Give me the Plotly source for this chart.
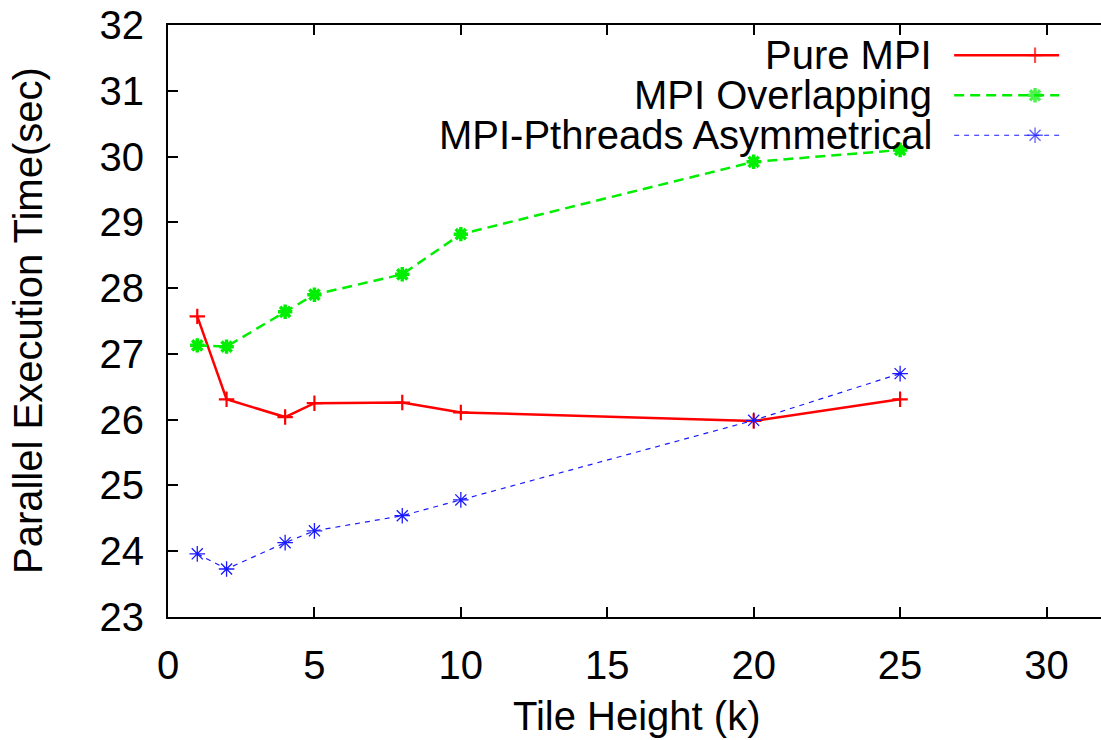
import plotly.graph_objects as go

# Tile height (k) on the x axis
tile_height = [1, 2, 4, 5, 8, 10, 20, 25]

# Parallel execution time (sec) per implementation
pure_mpi = [27.57, 26.31, 26.04, 26.25, 26.26, 26.11, 25.98, 26.31]
mpi_overlapping = [27.13, 27.11, 27.64, 27.90, 28.21, 28.82, 29.92, 30.10]
mpi_pthreads_asym = [23.96, 23.73, 24.13, 24.31, 24.54, 24.78, 25.99, 26.70]

series_names = ["Pure MPI", "MPI Overlapping", "MPI-Pthreads Asymmetrical"]

x_ticks = [0, 5, 10, 15, 20, 25, 30]
y_ticks = [23, 24, 25, 26, 27, 28, 29, 30, 31, 32]

FONT = "Liberation Sans, Arial, Helvetica, sans-serif"
FS = 40

styles = [
    dict(color="#ff0000", width=2.5, dash="solid", symbol="cross-thin-open", msize=11, mline=2.2),
    dict(color="#00ee00", width=2.5, dash="10px,6px", symbol="asterisk-open", msize=12, mline=3.5),
    dict(color="#1a1aff", width=1.2, dash="5px,5px", symbol="asterisk-open", msize=13, mline=1.3),
]

fig = go.Figure()

for name, ys, st in zip(series_names, [pure_mpi, mpi_overlapping, mpi_pthreads_asym], styles):
    fig.add_trace(go.Scatter(
        x=tile_height, y=ys, name=name, mode="lines+markers",
        line=dict(color=st["color"], width=st["width"], dash=st["dash"]),
        marker=dict(symbol=st["symbol"], size=st["msize"],
                    line=dict(color=st["color"], width=st["mline"])),
        showlegend=False, xaxis="x", yaxis="y",
    ))

# Key: label text right-aligned, followed by a line sample with a centred marker
key_text_right = 0.821
key_rows = [0.9489, 0.8813, 0.8138]
key_line_x = [0.8426, 0.9293, 0.9551]

for name, row, st in zip(series_names, key_rows, styles):
    fig.add_annotation(
        text=name, xref="paper", yref="paper", x=key_text_right, y=row,
        xanchor="right", yanchor="middle", showarrow=False,
        font=dict(family=FONT, size=FS, color="black"),
    )
    fig.add_trace(go.Scatter(
        x=key_line_x, y=[row] * 3, mode="lines+markers",
        line=dict(color=st["color"], width=st["width"], dash=st["dash"]),
        marker=dict(symbol=st["symbol"], size=[0, st["msize"], 0],
                    line=dict(color=st["color"], width=st["mline"])),
        showlegend=False, hoverinfo="skip", xaxis="x2", yaxis="y3",
    ))

axis_common = dict(
    showgrid=False, zeroline=False, ticks="inside", ticklen=10, tickwidth=1.5,
    tickcolor="black", linecolor="black", linewidth=2,
    tickfont=dict(family=FONT, size=FS, color="black"),
)

fig.update_layout(
    width=1101, height=740,
    margin=dict(l=167.5, r=0, t=24.7, b=123.3),
    paper_bgcolor="white", plot_bgcolor="white",
    font=dict(family=FONT, size=FS, color="black"),
    xaxis=dict(range=[0, 31.86], tickvals=x_ticks, showline=True, mirror="ticks",
               ticklabelstandoff=12, **axis_common),
    yaxis=dict(range=[23, 32], tickvals=y_ticks, showline=True, mirror=False,
               ticklabelstandoff=14, **axis_common),
    yaxis2=dict(range=[23, 32], tickvals=y_ticks, overlaying="y", side="right",
                showline=False, showgrid=False, zeroline=False, ticks="inside",
                ticklen=4, tickwidth=1.5, tickcolor="black", showticklabels=False),
    xaxis2=dict(range=[0, 1], overlaying="x", visible=False, fixedrange=True),
    yaxis3=dict(range=[0, 1], overlaying="y", visible=False, fixedrange=True, anchor="x2"),
    annotations=list(fig.layout.annotations) + [
        dict(text="Tile Height (k)", xref="paper", yref="paper", x=0.5024, y=-0.167,
             xanchor="center", yanchor="middle", showarrow=False,
             font=dict(family=FONT, size=FS, color="black")),
        dict(text="Parallel Execution Time(sec)", xref="paper", yref="paper",
             x=-0.15, y=0.5, xanchor="center", yanchor="middle", textangle=-90,
             showarrow=False, font=dict(family=FONT, size=FS, color="black")),
    ],
)

fig.write_html("out.html")
